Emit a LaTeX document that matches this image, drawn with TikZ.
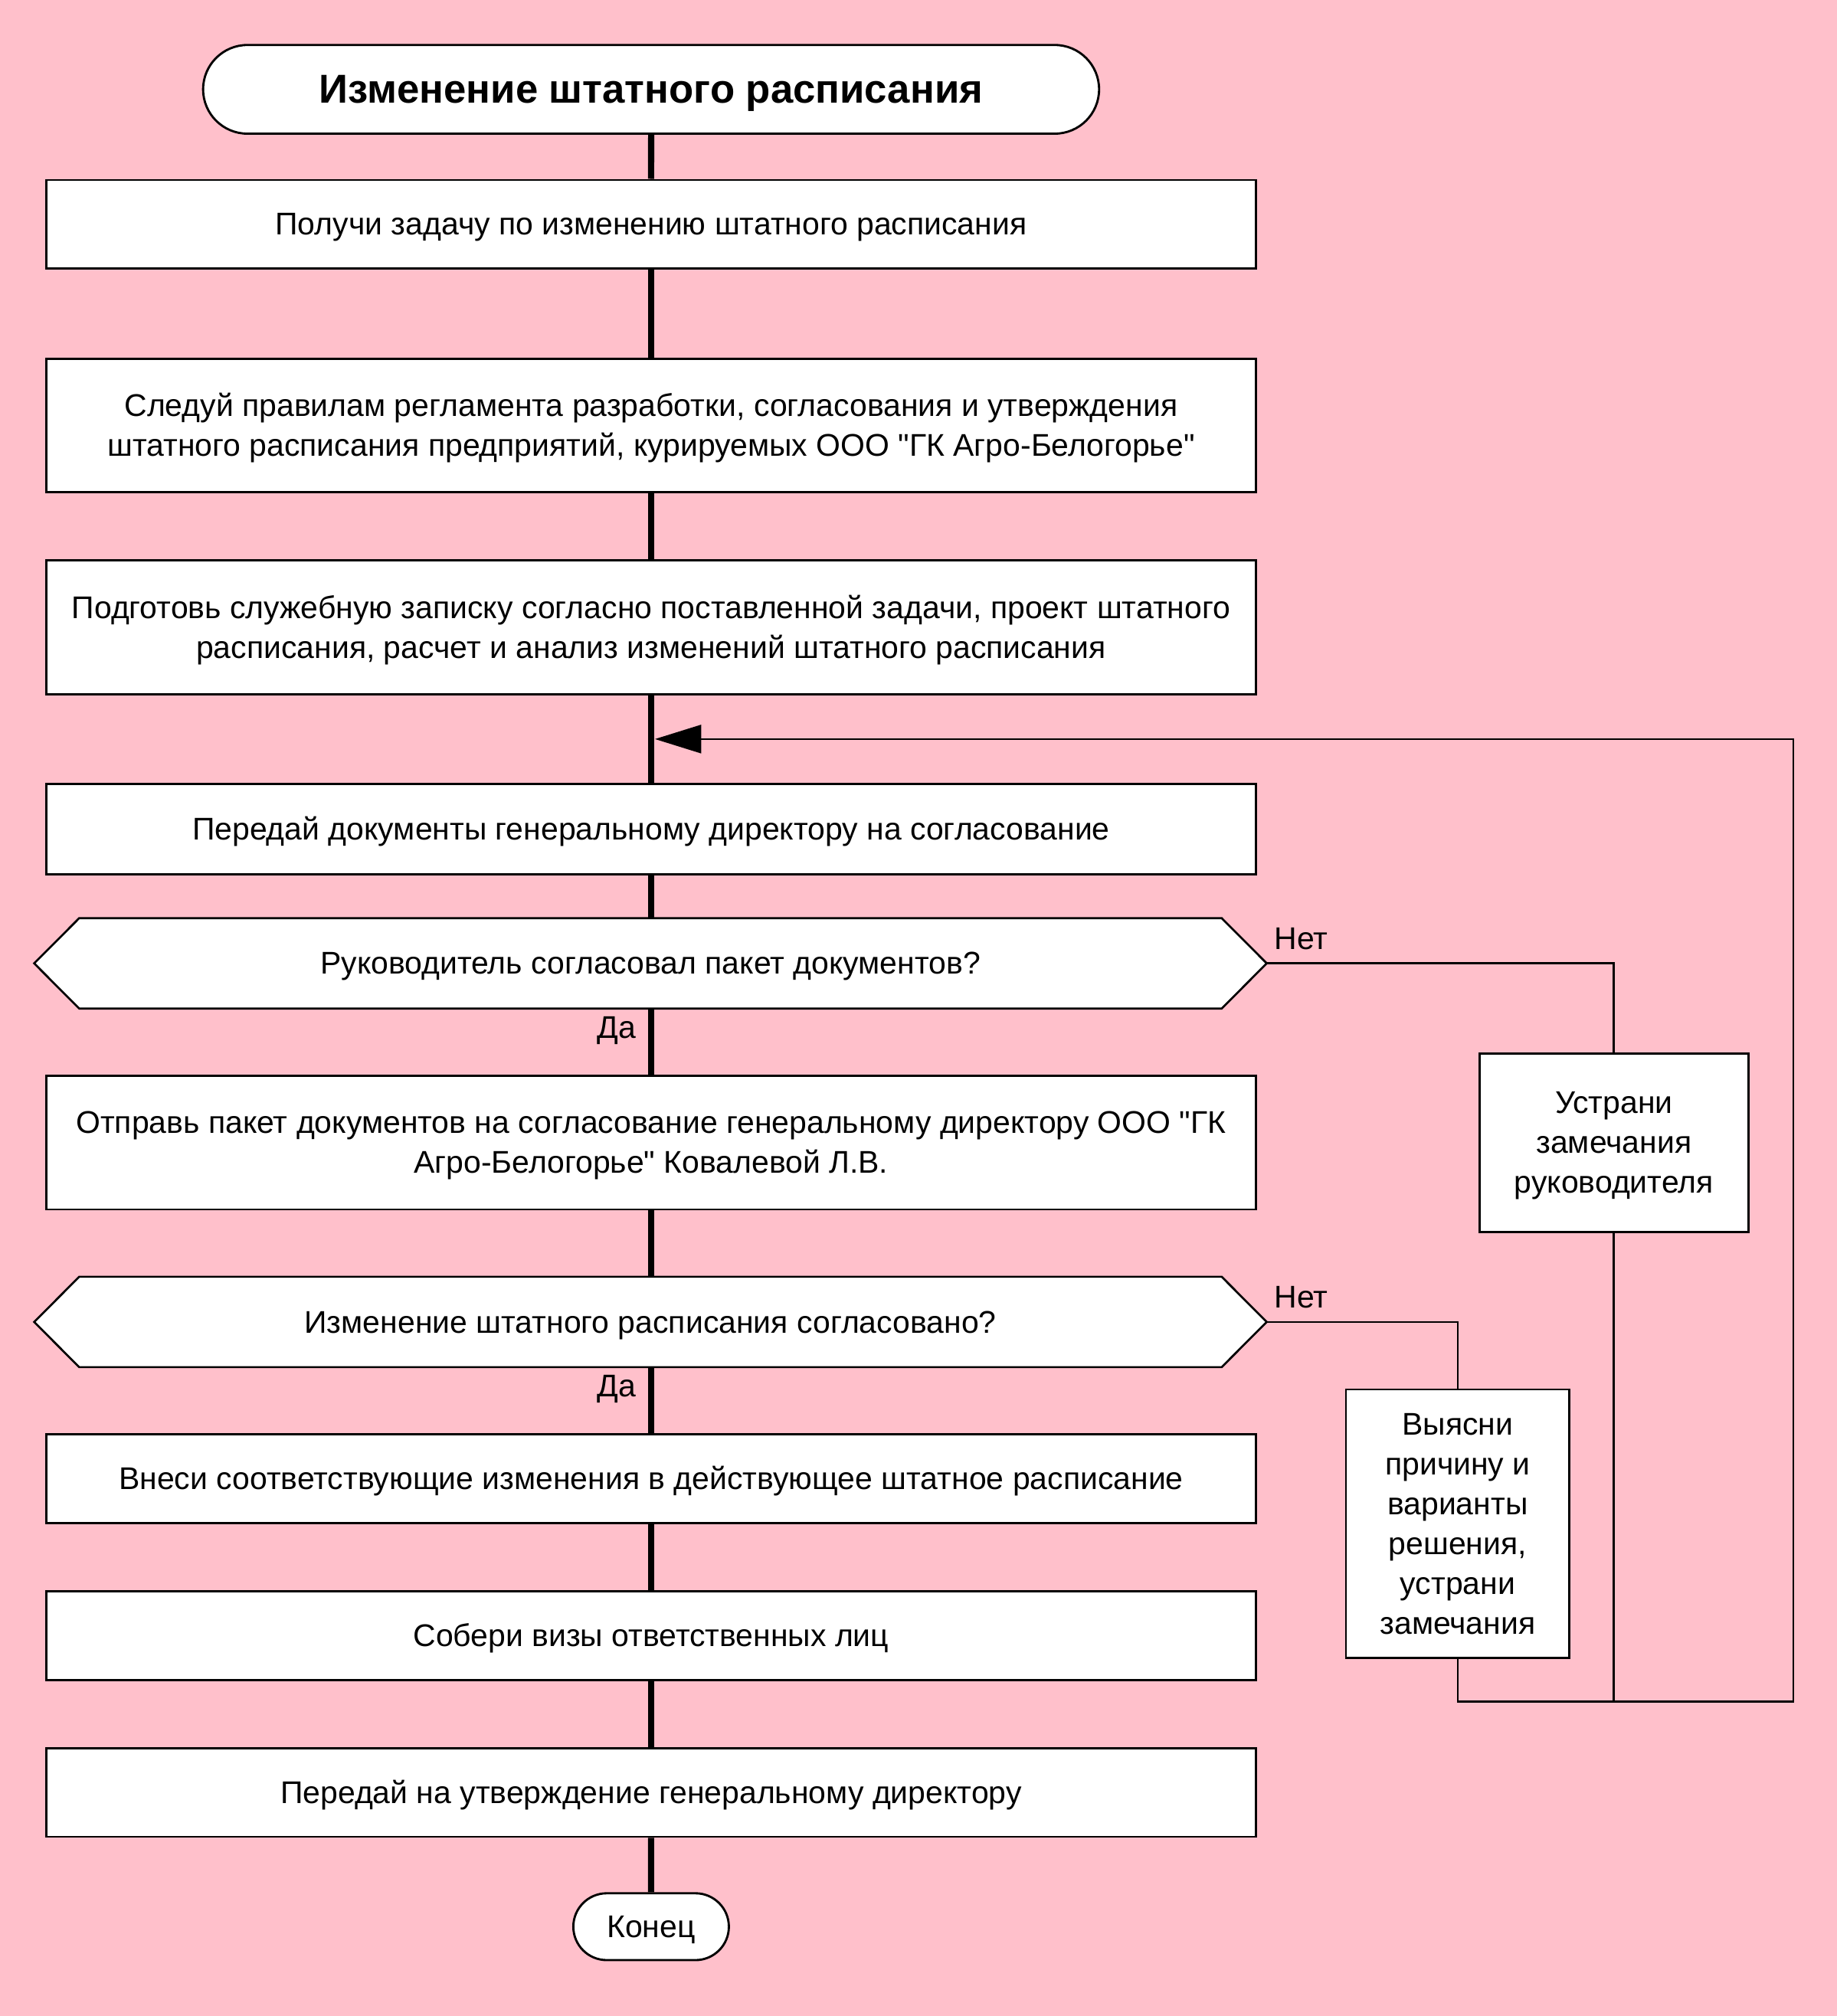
\documentclass[tikz,border=0pt]{standalone}
\usepackage{fontspec}
\setmainfont{Liberation Sans}[Ligatures=TeXOff]
\usetikzlibrary{shapes.misc,arrows.meta,calc}
\definecolor{bgpink}{HTML}{FFC0CB}
\pgfdeclarelayer{bgl}
\pgfdeclarelayer{shp}
\pgfsetlayers{bgl,shp,main}
\newcommand{\firststrut}{\rule{0pt}{11.04pt}}
\begin{document}
\begin{tikzpicture}[x=0.5pt,y=-0.5pt,
  txt/.style={font=\fontsize{12.2pt}{15.5pt}\selectfont, text=black},
  struts/.style={execute at begin node={\rule{0pt}{11.04pt}}, execute at end node={\rule[-2.59pt]{0pt}{0pt}}},
  box/.style={txt, struts, draw, fill=white, line width=0.85pt, minimum width=470.5pt, inner sep=0pt, align=center},
  sidebox/.style={txt, struts, draw, fill=white, line width=0.85pt, inner sep=0pt, align=center},
  dec/.style={txt, struts, draw=none, minimum width=444pt, minimum height=34.75pt, inner sep=0pt, align=center},
  term/.style={draw, fill=white, line width=0.85pt, rounded rectangle, inner sep=0pt, align=center},
  mainline/.style={draw, line width=2.4pt},
  conn/.style={draw, line width=0.8pt},
  lbl/.style={txt, inner sep=0pt}]
\begin{pgfonlayer}{bgl}
\path[use as bounding box, fill=bgpink] (0,0) rectangle (1429,1568.5);
\end{pgfonlayer}

\node[term, minimum width=348.5pt, minimum height=34.5pt, font=\fontsize{15.7pt}{18pt}\selectfont\bfseries, execute at begin node={\rule{0pt}{14.2pt}}, execute at end node={\rule[-3.33pt]{0pt}{0pt}}] (title) at (506.5,69.5) {Изменение штатного расписания};
\node[box, minimum height=34.5pt] (b1) at (506.5,174.5) {Получи задачу по изменению штатного расписания};
\node[box, minimum height=52pt] (b2) at (506.5,331) {\firststrut Следуй правилам регламента разработки, согласования и утверждения\\штатного расписания предприятий, курируемых ООО "ГК Агро-Белогорье"};
\node[box, minimum height=52pt] (b3) at (506.5,488) {\firststrut Подготовь служебную записку согласно поставленной задачи, проект штатного\\расписания, расчет и анализ изменений штатного расписания};
\node[box, minimum height=35pt] (b4) at (506.5,645) {Передай документы генеральному директору на согласование};
\node[dec] (d1) at (506,749.5) {Руководитель согласовал пакет документов?};
\node[box, minimum height=52pt] (b5) at (506.5,889) {\firststrut Отправь пакет документов на согласование генеральному директору ООО "ГК\\Агро-Белогорье" Ковалевой Л.В.};
\node[dec] (d2) at (506,1028.5) {Изменение штатного расписания согласовано?};
\node[box, minimum height=34.5pt] (b6) at (506.5,1150.5) {Внеси соответствующие изменения в действующее штатное расписание};
\node[box, minimum height=34.5pt] (b7) at (506.5,1272.5) {Собери визы ответственных лиц};
\node[box, minimum height=34.5pt] (b8) at (506.5,1394.5) {Передай на утверждение генеральному директору};
\node[term, txt, struts, minimum width=60.5pt, minimum height=26pt] (endn) at (506.5,1499) {Конец};

\node[sidebox, minimum width=104.5pt, minimum height=69.5pt] (ust) at (1255.5,889) {\firststrut Устрани\\замечания\\руководителя};
\node[sidebox, minimum width=87pt, minimum height=104.5pt] (vy) at (1134,1185.5) {\firststrut Выясни\\причину и\\варианты\\решения,\\устрани\\замечания};

\coordinate (d1tip) at ($(d1.east)+(35,0)$);
\coordinate (d2tip) at ($(d2.east)+(35,0)$);
\coordinate (d1l) at ($(d1.west)+(-35,0)$);
\coordinate (d2l) at ($(d2.west)+(-35,0)$);
\begin{pgfonlayer}{shp}
\draw[line width=0.8pt, fill=white] (d1.north west) -- (d1.north east) -- (d1tip) -- (d1.south east) -- (d1.south west) -- (d1l) -- cycle;
\draw[line width=0.8pt, fill=white] (d2.north west) -- (d2.north east) -- (d2tip) -- (d2.south east) -- (d2.south west) -- (d2l) -- cycle;
\end{pgfonlayer}

\node[lbl, anchor=base west] (n1) at (991,738.5) {Нет};
\node[lbl, anchor=base west] (n2) at (991,1017.5) {Нет};
\node[lbl, anchor=base east] (y1) at (495,807.5) {Да};
\node[lbl, anchor=base east] (y2) at (495,1086.5) {Да};

\path[mainline] (title) -- (b1);
\path[mainline] (b1) -- (b2);
\path[mainline] (b2) -- (b3);
\path[mainline] (b3) -- (b4);
\path[mainline] (b4) -- (b4.south |- d1.north);
\path[mainline] (b4.south |- d1.south) -- (b5);
\path[mainline] (b5) -- (b5.south |- d2.north);
\path[mainline] (b5.south |- d2.south) -- (b6);
\path[mainline] (b6) -- (b7);
\path[mainline] (b7) -- (b8);
\path[mainline] (b8) -- (endn);

\coordinate (loopbr) at (1395,1324);
\coordinate (j) at (509.5,575);
\path[conn] (d1tip) -| (ust.north);
\path[conn] (d2tip) -| (vy.north);
\path[conn] (ust.south) -- (ust.south |- loopbr);
\path[conn, -{Triangle[length=18pt,width=11pt]}] (vy.south) |- (loopbr) |- (j);
\end{tikzpicture}
\end{document}
